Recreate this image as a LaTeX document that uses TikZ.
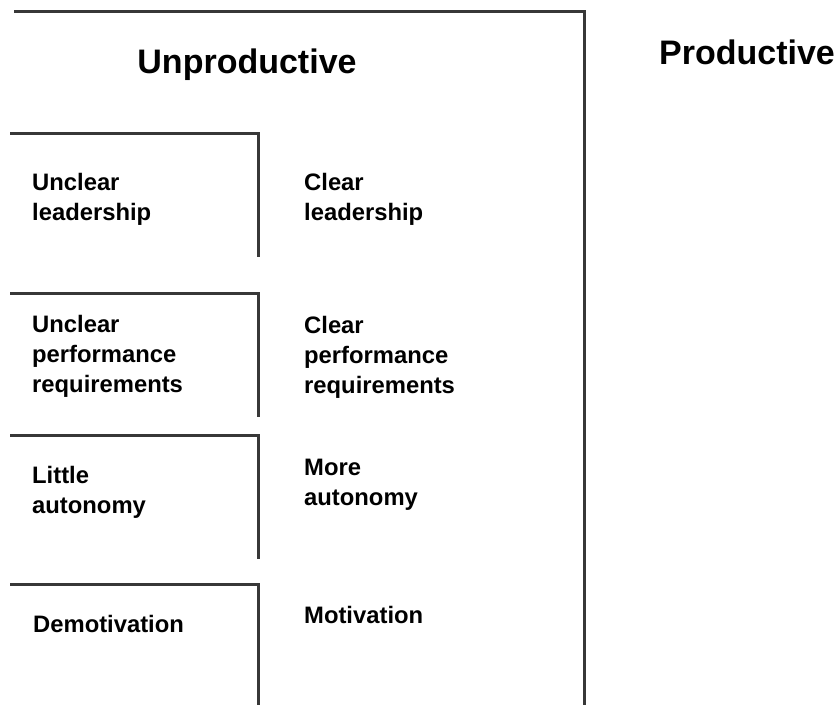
\documentclass[tikz,border=0pt]{standalone}
\usepackage{fontspec}
\setmainfont{Liberation Sans}
\begin{document}
\begin{tikzpicture}[x=1pt, y=-1pt,
  bar/.style={line width=3pt, black!78},
  item/.style={anchor=base west, align=left, inner sep=0pt, font=\bfseries\fontsize{23.8}{30}\selectfont},
  heading/.style={anchor=base, inner sep=0pt, font=\bfseries\fontsize{34}{40}\selectfont}]
\useasboundingbox (0,0) rectangle (840,705);
\draw[bar] (14,11) -- (584,11) -- (584,705);
\draw[bar] (10,133) -- (258,133) -- (258,257);
\draw[bar] (10,293) -- (258,293) -- (258,417);
\draw[bar] (10,435) -- (258,435) -- (258,559);
\draw[bar] (10,584) -- (258,584) -- (258,705);
\draw (247,73) node(unproductive) [heading] {Unproductive};
\draw (747,64) node(productive) [heading] {Productive};
\draw (32,220) node(unclearlead) [item] {Unclear\\leadership};
\draw (32,392) node(unclearreq) [item] {Unclear\\performance\\requirements};
\draw (32,513) node(little) [item] {Little\\autonomy};
\draw (33,632) node(demotivation) [item] {Demotivation};
\draw (304,220) node(clearlead) [item] {Clear\\leadership};
\draw (304,393) node(clearreq) [item] {Clear\\performance\\requirements};
\draw (304,505) node(more) [item] {More\\autonomy};
\draw (304,623) node(motivation) [item] {Motivation};
\end{tikzpicture}
\end{document}
